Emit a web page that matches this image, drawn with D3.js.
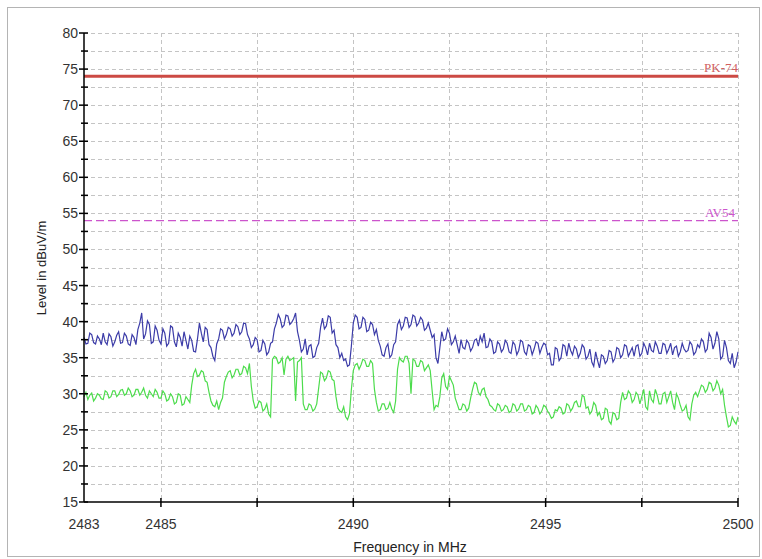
<!DOCTYPE html>
<html>
<head>
  <meta charset="UTF-8">
  <style>
      body { margin: 0; background: #fff; }
      svg { display: block; font-family: "Liberation Sans", Arial, sans-serif; }
  </style>
</head>
<body>
<svg></svg>
<script src="https://d3js.org/d3.v7.min.js"></script>
<script>

let width = 762, height = 559;

// frequency axis: one reading every 0.05 MHz from 2483 to 2500
let freqStart = 2483, freqStep = 0.05;

// peak trace (blue), dBuV/m, one row per MHz
let peakTrace = [
  37.8, 36.9, 37.0, 38.4, 38.2, 37.1, 36.9, 38.0, 37.6, 36.8, 38.4, 37.2, 36.8, 38.3, 37.9, 36.6, 37.2, 38.1, 38.6, 37.0,
  37.1, 38.4, 38.0, 36.9, 36.7, 38.2, 37.8, 36.8, 38.9, 39.8, 41.2, 37.6, 38.3, 40.1, 39.6, 37.0, 37.2, 39.4, 38.8, 37.4,
  36.9, 39.0, 38.4, 36.6, 37.0, 39.4, 39.2, 37.2, 36.5, 38.4, 37.8, 36.6, 38.6, 37.4, 36.2, 38.0, 37.4, 35.9, 35.8, 37.6,
  39.8, 38.4, 37.2, 39.2, 38.9, 36.8, 36.4, 35.2, 34.6, 36.9, 37.6, 39.0, 38.8, 37.6, 38.2, 39.2, 39.0, 38.0, 38.4, 39.6,
  39.3, 38.2, 38.6, 39.8, 39.7, 38.2, 37.6, 36.4, 36.8, 37.8, 37.5, 35.8, 36.0, 37.4, 36.9, 35.4, 35.8, 37.0, 37.2, 39.0,
  39.8, 41.0, 40.4, 39.2, 39.5, 40.9, 40.8, 39.6, 39.9, 40.4, 41.2, 38.6, 37.4, 35.8, 36.2, 37.6, 35.4, 36.6, 36.8, 35.0,
  35.2, 36.4, 37.0, 39.2, 40.5, 39.0, 39.4, 40.8, 40.6, 38.4, 38.8, 36.8, 36.4, 35.0, 35.6, 34.6, 34.8, 33.8, 34.0, 36.6,
  39.8, 40.9, 40.6, 39.0, 39.2, 40.6, 40.3, 38.6, 38.8, 39.9, 39.6, 38.2, 38.9, 37.4, 36.6, 35.4, 35.2, 36.4, 36.9, 35.0,
  35.4, 36.8, 37.2, 39.6, 40.2, 38.9, 39.4, 40.6, 40.5, 39.2, 39.6, 40.9, 40.7, 39.4, 39.8, 40.6, 40.2, 38.8, 39.1, 39.8,
  38.8, 37.8, 38.2, 35.0, 34.2, 36.4, 38.6, 37.4, 37.6, 39.0, 38.4, 36.8, 37.2, 38.0, 36.8, 35.6, 37.5, 36.4, 36.2, 37.4,
  37.0, 35.9, 36.4, 37.4, 37.6, 36.6, 38.0, 37.2, 38.4, 36.4, 36.5, 37.6, 37.2, 35.6, 35.8, 37.2, 36.9, 35.8, 36.2, 37.4,
  37.0, 35.8, 35.6, 37.2, 36.8, 35.4, 36.0, 37.4, 37.2, 35.8, 35.4, 36.8, 36.6, 35.4, 36.2, 37.2, 37.0, 35.6, 36.4, 37.0,
  36.8, 35.4, 35.6, 34.0, 34.0, 36.4, 36.2, 34.6, 35.0, 36.8, 36.6, 35.2, 37.0, 36.0, 35.4, 36.6, 36.2, 35.0, 35.6, 36.8,
  36.4, 34.8, 35.2, 36.2, 34.4, 33.8, 35.8, 34.6, 33.6, 35.4, 35.2, 34.2, 34.6, 36.0, 35.8, 34.4, 34.9, 36.4, 36.2, 35.0,
  35.4, 36.8, 36.6, 35.2, 35.8, 36.4, 35.2, 36.6, 36.8, 35.2, 35.6, 37.0, 36.4, 35.4, 37.0, 36.0, 35.8, 37.2, 36.6, 35.6,
  35.6, 37.0, 36.8, 35.6, 36.2, 37.0, 35.4, 36.4, 36.6, 35.2, 35.8, 37.0, 36.2, 35.8, 36.0, 37.2, 36.8, 35.4, 35.8, 36.8,
  36.4, 37.6, 37.2, 35.8, 36.2, 38.4, 37.8, 36.2, 37.0, 38.6, 37.6, 34.8, 35.2, 37.4, 36.4, 34.6, 34.2, 35.6, 33.6, 34.4,
  35.8
];

// average trace (green), dBuV/m, one row per MHz
let avgTrace = [
  29.6, 30.2, 29.2, 29.8, 30.1, 29.0, 29.4, 30.0, 29.8, 29.3, 29.2, 30.4, 30.2, 29.4, 29.6, 30.4, 30.4, 29.6, 29.9, 30.5,
  30.6, 29.8, 30.0, 30.8, 30.4, 29.6, 29.8, 30.6, 30.6, 29.8, 30.2, 30.8, 29.8, 29.4, 30.4, 30.0, 29.6, 30.6, 30.2, 29.4,
  29.4, 30.4, 30.0, 29.0, 29.2, 30.0, 29.6, 28.6, 28.8, 30.0, 29.8, 28.4, 28.6, 29.6, 29.2, 28.8, 31.2, 32.8, 33.4, 32.4,
  32.6, 33.2, 33.0, 31.8, 31.6, 30.2, 29.0, 28.4, 28.2, 29.0, 27.8, 28.8, 29.4, 31.6, 32.4, 33.0, 33.2, 32.2, 32.6, 33.4,
  33.4, 32.6, 32.8, 33.8, 33.6, 32.8, 34.2, 31.0, 29.0, 28.0, 28.2, 29.0, 28.8, 27.6, 27.9, 28.6, 27.2, 26.8, 34.8, 35.2,
  35.0, 34.2, 34.4, 35.0, 32.6, 34.8, 35.2, 34.6, 34.8, 35.0, 29.0, 34.4, 34.6, 35.0, 28.6, 27.8, 27.8, 28.6, 28.4, 27.6,
  27.9, 28.6, 30.8, 33.0, 32.8, 31.8, 32.2, 33.2, 33.0, 32.0, 31.8, 29.6, 28.0, 27.6, 27.4, 28.2, 26.8, 26.4, 27.2, 30.6,
  33.2, 34.0, 34.2, 33.4, 34.0, 34.8, 34.6, 33.8, 33.8, 34.6, 34.2, 30.6, 28.8, 27.6, 27.8, 28.6, 28.6, 27.8, 28.0, 28.8,
  27.9, 27.4, 29.0, 33.4, 35.0, 34.6, 34.4, 35.2, 35.2, 34.2, 30.0, 34.8, 34.6, 33.8, 33.8, 34.6, 34.4, 33.2, 33.6, 34.0,
  33.2, 30.4, 27.8, 28.4, 28.2, 29.6, 32.2, 32.8, 31.0, 30.6, 32.4, 31.8, 31.2, 29.4, 28.6, 27.8, 27.8, 28.6, 28.4, 27.6,
  28.0, 29.4, 30.6, 31.6, 31.4, 30.2, 29.8, 30.6, 30.8, 29.6, 29.2, 28.4, 28.2, 27.8, 27.6, 28.6, 28.4, 27.6, 27.8, 28.4,
  28.2, 27.4, 27.6, 28.6, 28.4, 27.6, 27.9, 28.6, 28.6, 27.6, 27.8, 28.4, 28.2, 27.2, 27.4, 28.4, 28.0, 27.2, 27.6, 28.4,
  28.2, 27.6, 27.2, 26.6, 26.8, 27.8, 27.6, 28.2, 28.0, 27.2, 27.4, 28.6, 28.4, 27.6, 28.0, 28.8, 29.0, 28.2, 28.2, 29.8,
  29.6, 28.0, 28.2, 27.2, 27.6, 28.8, 28.4, 27.0, 27.4, 26.4, 26.6, 28.0, 27.8, 26.2, 25.8, 27.4, 27.2, 26.4, 26.6, 28.8,
  30.2, 29.2, 29.4, 30.4, 30.0, 28.8, 29.2, 30.2, 29.8, 28.6, 29.6, 30.6, 28.2, 27.8, 30.4, 29.2, 28.8, 30.6, 29.8, 28.6,
  28.6, 30.0, 30.2, 28.8, 29.6, 30.4, 28.8, 27.8, 30.0, 29.4, 28.4, 27.6, 27.8, 28.4, 26.8, 26.4, 28.6, 29.8, 30.2, 29.6,
  30.4, 31.2, 31.0, 30.2, 30.6, 31.6, 31.4, 30.4, 30.8, 31.8, 31.2, 30.0, 30.6, 28.4, 26.8, 25.4, 25.6, 26.8, 26.2, 25.8,
  26.8
];

// limit lines
let limits = [
  { name: "PK-74", level: 74 },
  { name: "AV54", level: 54 }
];

let xTicks = [2485, 2487.5, 2490, 2492.5, 2495, 2497.5, 2500];
let xLabels = [2483, 2485, 2490, 2495, 2500];
let yTicks = d3.range(15, 80.01, 2.5);
let yLabels = d3.range(15, 80.01, 5);

let svg = d3.select("svg")
    .attr("width", width)
    .attr("height", height);

let plotLeft = 84, plotRight = 738, plotTop = 33, plotBottom = 502;

let x = d3.scaleLinear().domain([2483, 2500]).range([plotLeft, plotRight]);
let y = d3.scaleLinear().domain([15, 80]).range([plotBottom, plotTop]);

// outer frame
svg.append("rect")
    .attr("x", 7.5).attr("y", 7.5)
    .attr("width", 752).attr("height", 549)
    .attr("fill", "none")
    .attr("stroke", "#b4b4b4");

// grid
let grid = svg.append("g")
    .attr("stroke", "#c4c4c4")
    .attr("stroke-dasharray", "4,3")
    .attr("stroke-width", 1);

grid.selectAll("line.h")
    .data(yTicks.filter(d => d > 15))
    .enter().append("line")
    .attr("class", "h")
    .attr("x1", plotLeft).attr("x2", plotRight)
    .attr("y1", d => Math.round(y(d)) + 0.5)
    .attr("y2", d => Math.round(y(d)) + 0.5);

grid.selectAll("line.v")
    .data(xTicks)
    .enter().append("line")
    .attr("class", "v")
    .attr("y1", plotTop).attr("y2", plotBottom)
    .attr("x1", d => Math.round(x(d)) + 0.5)
    .attr("x2", d => Math.round(x(d)) + 0.5);

// limit lines
svg.append("line")
    .attr("x1", plotLeft).attr("x2", plotRight)
    .attr("y1", y(limits[0].level)).attr("y2", y(limits[0].level))
    .attr("stroke", "#cc4a44")
    .attr("stroke-width", 3);

svg.append("line")
    .attr("x1", plotLeft).attr("x2", plotRight)
    .attr("y1", y(limits[1].level)).attr("y2", y(limits[1].level))
    .attr("stroke", "#cc55cc")
    .attr("stroke-dasharray", "8,4")
    .attr("stroke-width", 1.2);

svg.append("text")
    .attr("x", plotRight).attr("y", y(limits[0].level) - 4)
    .attr("text-anchor", "end")
    .style("font-family", "'Liberation Serif', serif")
    .style("font-size", "13px")
    .attr("fill", "#d06060")
    .text(limits[0].name);

svg.append("text")
    .attr("x", plotRight - 3).attr("y", y(limits[1].level) - 4)
    .attr("text-anchor", "end")
    .style("font-family", "'Liberation Serif', serif")
    .style("font-size", "13px")
    .attr("fill", "#cc55cc")
    .text(limits[1].name);

// traces
let line = d3.line()
    .x((d, i) => x(freqStart + i * freqStep))
    .y(d => y(d));

svg.append("path")
    .datum(avgTrace)
    .attr("d", line)
    .attr("fill", "none")
    .attr("stroke", "#4cdc4c")
    .attr("stroke-width", 1.2);

svg.append("path")
    .datum(peakTrace)
    .attr("d", line)
    .attr("fill", "none")
    .attr("stroke", "#3c3ca8")
    .attr("stroke-width", 1.2);

// axes
let axes = svg.append("g").attr("stroke", "#000").attr("stroke-width", 1.5);

axes.append("line")
    .attr("x1", plotLeft).attr("x2", plotLeft)
    .attr("y1", plotTop).attr("y2", plotBottom);
axes.append("line")
    .attr("x1", plotLeft).attr("x2", plotRight)
    .attr("y1", plotBottom).attr("y2", plotBottom);

axes.selectAll("line.yt")
    .data(yTicks)
    .enter().append("line")
    .attr("class", "yt")
    .attr("x1", d => (d % 5 === 0 ? plotLeft - 5 : plotLeft - 3))
    .attr("x2", plotLeft + 4)
    .attr("y1", d => y(d)).attr("y2", d => y(d));

axes.selectAll("line.xt")
    .data(xTicks)
    .enter().append("line")
    .attr("class", "xt")
    .attr("x1", d => x(d)).attr("x2", d => x(d))
    .attr("y1", plotBottom - 4).attr("y2", plotBottom + 5);

svg.selectAll("text.yl")
    .data(yLabels)
    .enter().append("text")
    .attr("class", "yl")
    .attr("x", plotLeft - 6)
    .attr("y", d => y(d) + 5)
    .attr("text-anchor", "end")
    .style("font-size", "14px")
    .attr("fill", "#333")
    .text(d => d);

svg.selectAll("text.xl")
    .data(xLabels)
    .enter().append("text")
    .attr("class", "xl")
    .attr("x", d => x(d))
    .attr("y", 529)
    .attr("text-anchor", "middle")
    .style("font-size", "14px")
    .attr("fill", "#333")
    .text(d => d);

// axis titles
svg.append("text")
    .attr("x", 410).attr("y", 552)
    .attr("text-anchor", "middle")
    .style("font-size", "14px")
    .attr("fill", "#222")
    .text("Frequency in MHz");

svg.append("text")
    .attr("transform", "translate(46,268) rotate(-90)")
    .attr("text-anchor", "middle")
    .style("font-size", "13px")
    .attr("fill", "#222")
    .text("Level in dBuV/m");

</script>
</body>
</html>
